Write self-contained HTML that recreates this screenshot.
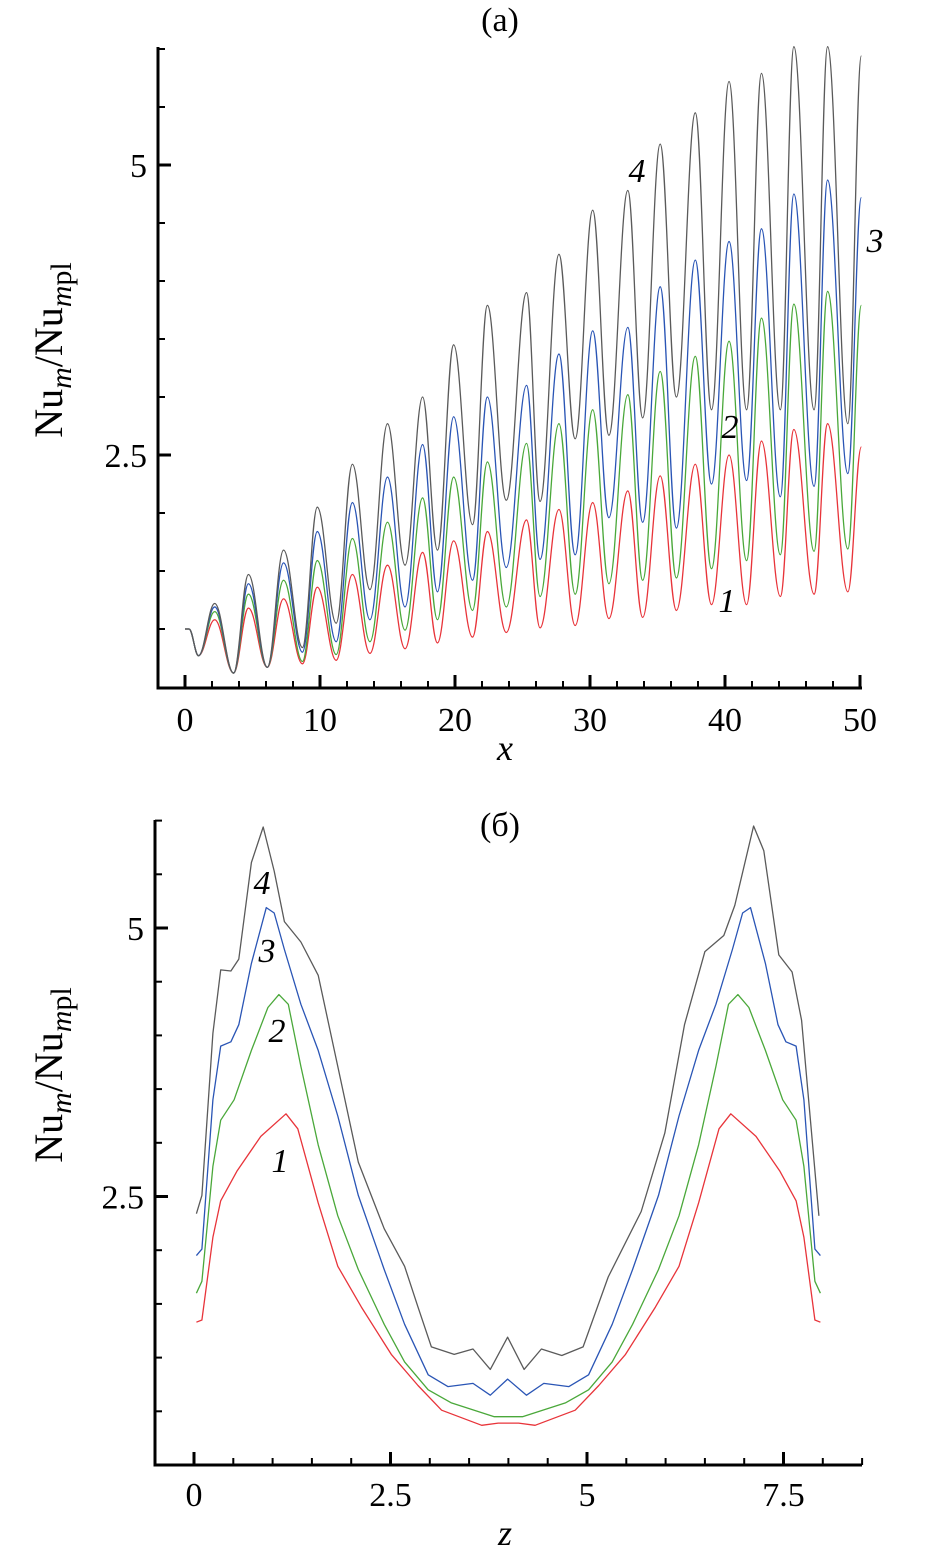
<!DOCTYPE html>
<html><head><meta charset="utf-8"><style>
html,body{margin:0;padding:0;background:#fff;}
svg{display:block;font-family:"Liberation Serif",serif;}
</style></head><body>
<svg id="fig" width="932" height="1564" viewBox="0 0 932 1564" xmlns="http://www.w3.org/2000/svg">
<rect width="932" height="1564" fill="#fff"/>
<g id="chartA"></g>
<g id="chartB"></g>
</svg>
<script>
// ---- Chart (a) data ----
const aX = [0,0.3,1.0,2.2,3.6,4.7,6.1,7.3,8.7,9.8,11.2,12.4,13.7,15.0,16.3,17.6,18.7,19.9,21.3,22.4,23.8,25.3,26.3,27.7,28.9,30.2,31.4,32.8,33.9,35.2,36.4,37.8,39.0,40.3,41.6,42.7,44.1,45.1,46.6,47.6,49.1,50.1];
const aGray = [1.0,1.0,0.77,1.22,0.62,1.47,0.67,1.68,0.84,2.05,1.05,2.42,1.34,2.77,1.55,3.00,1.68,3.45,1.90,3.79,2.11,3.90,2.10,4.23,2.64,4.61,2.67,4.78,2.82,5.18,3.00,5.45,2.89,5.72,2.89,5.79,2.89,6.02,2.89,6.02,2.77,5.94];
const aBlue = [1.0,1.0,0.77,1.19,0.62,1.39,0.67,1.57,0.80,1.84,0.89,2.09,1.08,2.31,1.19,2.59,1.32,2.83,1.42,3.00,1.53,3.10,1.60,3.37,1.64,3.57,1.96,3.60,1.92,3.95,1.87,4.18,2.25,4.34,2.28,4.45,2.14,4.75,2.23,4.87,2.34,4.72];
const aGreen = [1.0,1.0,0.77,1.15,0.62,1.30,0.67,1.42,0.72,1.59,0.78,1.78,0.89,1.92,0.99,2.13,1.08,2.31,1.16,2.44,1.19,2.60,1.28,2.77,1.30,2.89,1.39,3.02,1.42,3.22,1.44,3.35,1.52,3.48,1.59,3.68,1.64,3.80,1.67,3.91,1.69,3.79];
const aRed = [1.0,1.0,0.77,1.08,0.62,1.18,0.67,1.26,0.70,1.36,0.73,1.47,0.79,1.55,0.83,1.66,0.88,1.76,0.93,1.84,0.97,1.94,1.01,2.03,1.03,2.09,1.09,2.19,1.10,2.32,1.16,2.42,1.21,2.50,1.21,2.62,1.28,2.72,1.30,2.77,1.32,2.57];
const aXTicks = [0,10,20,30,40,50];
const aXTickLabels = ["0","10","20","30","40","50"];
const aYTicks = [2.5,5];
const aYTickLabels = ["2.5","5"];

// ---- Chart (b) data ----
const bGrayZ = [0.03,0.1,0.24,0.34,0.47,0.57,0.73,0.88,1.02,1.15,1.36,1.58,1.83,2.09,2.42,2.68,2.85,3.02,3.31,3.55,3.77,3.99,4.2,4.42,4.68,4.95,5.27,5.69,5.99,6.24,6.5,6.74,6.88,7.12,7.25,7.44,7.61,7.73,7.95];
const bGrayV = [2.34,2.51,4.02,4.61,4.60,4.71,5.61,5.94,5.53,5.06,4.87,4.56,3.71,2.82,2.20,1.85,1.47,1.10,1.03,1.08,0.89,1.19,0.89,1.08,1.02,1.10,1.75,2.36,3.09,4.10,4.78,4.93,5.21,5.95,5.72,4.75,4.59,4.14,2.32];
const bBlueZ = [0.03,0.1,0.24,0.34,0.47,0.57,0.73,0.92,1.02,1.15,1.36,1.58,1.83,2.09,2.42,2.68,2.98,3.23,3.55,3.77,3.99,4.23,4.45,4.77,5.02,5.32,5.58,5.91,6.17,6.42,6.64,6.85,6.98,7.08,7.27,7.43,7.53,7.66,7.76,7.9,7.97];
const bBlueV = [1.95,2.01,3.40,3.90,3.94,4.10,4.67,5.19,5.14,4.80,4.29,3.86,3.25,2.51,1.82,1.31,0.84,0.73,0.76,0.65,0.80,0.65,0.76,0.73,0.84,1.31,1.82,2.51,3.25,3.86,4.29,4.80,5.14,5.19,4.67,4.10,3.94,3.90,3.40,2.01,1.95];
const bGreenZ = [0.03,0.1,0.24,0.34,0.51,0.73,0.94,1.08,1.2,1.36,1.58,1.83,2.09,2.42,2.68,2.98,3.27,3.82,4.18,4.73,5.02,5.32,5.58,5.91,6.17,6.42,6.64,6.8,6.92,7.06,7.27,7.49,7.66,7.76,7.9,7.97];
const bGreenV = [1.60,1.71,2.78,3.21,3.40,3.86,4.26,4.38,4.29,3.71,2.98,2.32,1.82,1.31,0.96,0.70,0.58,0.45,0.45,0.58,0.70,0.96,1.31,1.82,2.32,2.98,3.71,4.29,4.38,4.26,3.86,3.40,3.21,2.78,1.71,1.60];
const bRedZ = [0.03,0.1,0.24,0.34,0.55,0.85,1.17,1.32,1.58,1.83,2.13,2.51,2.85,3.15,3.66,3.87,4.13,4.34,4.85,5.15,5.49,5.87,6.17,6.42,6.68,6.83,7.15,7.45,7.66,7.76,7.9,7.97];
const bRedV = [1.33,1.35,2.12,2.46,2.74,3.06,3.27,3.13,2.44,1.85,1.47,1.03,0.74,0.51,0.37,0.39,0.39,0.37,0.51,0.74,1.03,1.47,1.85,2.44,3.13,3.27,3.06,2.74,2.46,2.12,1.35,1.33];
const bXTicks = [0,2.5,5,7.5];
const bXTickLabels = ["0","2.5","5","7.5"];
const bYTicks = [2.5,5];
const bYTickLabels = ["2.5","5"];

const NS = "http://www.w3.org/2000/svg";
function mk(parent, tag, attrs, text){
  const e = document.createElementNS(NS, tag);
  for (const k in attrs) e.setAttribute(k, attrs[k]);
  if (text !== undefined) e.textContent = text;
  parent.appendChild(e);
  return e;
}
const COL = {gray:"#5a5a5a", blue:"#2a55b5", green:"#4aa83a", red:"#e8343a"};
const YTITLE = 'Nu<tspan font-style="italic" font-size="30" dy="9">m</tspan><tspan dy="-9">/Nu</tspan><tspan font-style="italic" font-size="30" dy="9">m</tspan><tspan font-size="30">pl</tspan>';

// ---------- Chart A ----------
(function(){
  const g = document.getElementById("chartA");
  const L=158, B=688, T=47, R=862;
  const sx = v => 185 + v*13.5;
  const sy = v => 165 - (v-5)*116;
  let e;
  e = mk(g,"path",{d:`M${L},${T} V${B} H${R}`,fill:"none",stroke:"#000","stroke-width":3});
  
  
  for (let v=0; v<=50; v+=2){
    const major = aXTicks.includes(v);
    mk(g,"line",{x1:sx(v),x2:sx(v),y1:B,y2:B-(major?13:7),stroke:"#000","stroke-width":major?3:2});
  }
  aXTicks.forEach((v,i)=>{
    e = mk(g,"text",{x:sx(v),y:731,"text-anchor":"middle","font-size":34},aXTickLabels[i]);
    
    
  });
  for (let v=1; v<=6.01; v+=0.5){
    const major = aYTicks.includes(v);
    mk(g,"line",{x1:L,x2:L+(major?13:7),y1:sy(v),y2:sy(v),stroke:"#000","stroke-width":major?3:2});
  }
  aYTicks.forEach((v,i)=>{
    e = mk(g,"text",{x:147,y:sy(v)+12,"text-anchor":"end","font-size":34},aYTickLabels[i]);
    
    
  });
  function curve(vals){
    let d = `M${sx(aX[0])},${sy(vals[0])}`;
    for (let i=1;i<aX.length;i++){
      const x0=sx(aX[i-1]), y0=sy(vals[i-1]), x1=sx(aX[i]), y1=sy(vals[i]);
      const dx=(x1-x0)/2.6;
      d += ` C${x0+dx},${y0} ${x1-dx},${y1} ${x1},${y1}`;
    }
    return d;
  }
  [["red",aRed],["green",aGreen],["blue",aBlue],["gray",aGray]].forEach(([c,vals])=>{
    e = mk(g,"path",{d:curve(vals),fill:"none",stroke:COL[c],"stroke-width":1.3});
    
    
  });
  e = mk(g,"text",{x:500,y:31,"text-anchor":"middle","font-size":34},"(a)");
  
  
  e = mk(g,"text",{x:505,y:760,"text-anchor":"middle","font-size":36,"font-style":"italic"},"x");
  
  
  const yt = mk(g,"text",{transform:"translate(62,350) rotate(-90)","text-anchor":"middle","font-size":40});
  
  
  yt.innerHTML = YTITLE;
  [["4",637,182],["3",875,252],["2",730,438],["1",727,612]].forEach(([t,x,y])=>{
    e = mk(g,"text",{x:x,y:y,"text-anchor":"middle","font-size":34,"font-style":"italic"},t);
    
    
  });
})();

// ---------- Chart B ----------
(function(){
  const g = document.getElementById("chartB");
  const L=155, B=1465, T=820, R=862;
  const sx = v => 194 + v*78.6;
  const sy = v => 928 - (v-5)*107.4;
  let e;
  e = mk(g,"path",{d:`M${L},${T} V${B} H${R}`,fill:"none",stroke:"#000","stroke-width":3});
  
  
  for (let v=0; v<=8.51; v+=0.5){
    const major = bXTicks.includes(v);
    mk(g,"line",{x1:sx(v),x2:sx(v),y1:B,y2:B-(major?13:7),stroke:"#000","stroke-width":major?3:2});
  }
  bXTicks.forEach((v,i)=>{
    e = mk(g,"text",{x:sx(v),y:1506,"text-anchor":"middle","font-size":34},bXTickLabels[i]);
    
    
  });
  for (let v=0.5; v<=6.01; v+=0.5){
    const major = bYTicks.includes(v);
    mk(g,"line",{x1:L,x2:L+(major?13:7),y1:sy(v),y2:sy(v),stroke:"#000","stroke-width":major?3:2});
  }
  bYTicks.forEach((v,i)=>{
    e = mk(g,"text",{x:144,y:sy(v)+12,"text-anchor":"end","font-size":34},bYTickLabels[i]);
    
    
  });
  [["red",bRedZ,bRedV],["green",bGreenZ,bGreenV],["blue",bBlueZ,bBlueV],["gray",bGrayZ,bGrayV]].forEach(([c,zs,vs])=>{
    const pts = zs.map((z,i)=>sx(z).toFixed(1)+","+sy(vs[i]).toFixed(1)).join(" ");
    e = mk(g,"polyline",{points:pts,fill:"none",stroke:COL[c],"stroke-width":1.3,"stroke-linejoin":"round"});
    
    
  });
  e = mk(g,"text",{x:500,y:836,"text-anchor":"middle","font-size":34},"(б)");
  
  
  e = mk(g,"text",{x:505,y:1545,"text-anchor":"middle","font-size":36,"font-style":"italic"},"z");
  
  
  const yt = mk(g,"text",{transform:"translate(62,1075) rotate(-90)","text-anchor":"middle","font-size":40});
  
  
  yt.innerHTML = YTITLE;
  [["4",262,894],["3",267,962],["2",277,1042],["1",280,1172]].forEach(([t,x,y])=>{
    e = mk(g,"text",{x:x,y:y,"text-anchor":"middle","font-size":34,"font-style":"italic"},t);
    
    
  });
})();
</script>
</body></html>
